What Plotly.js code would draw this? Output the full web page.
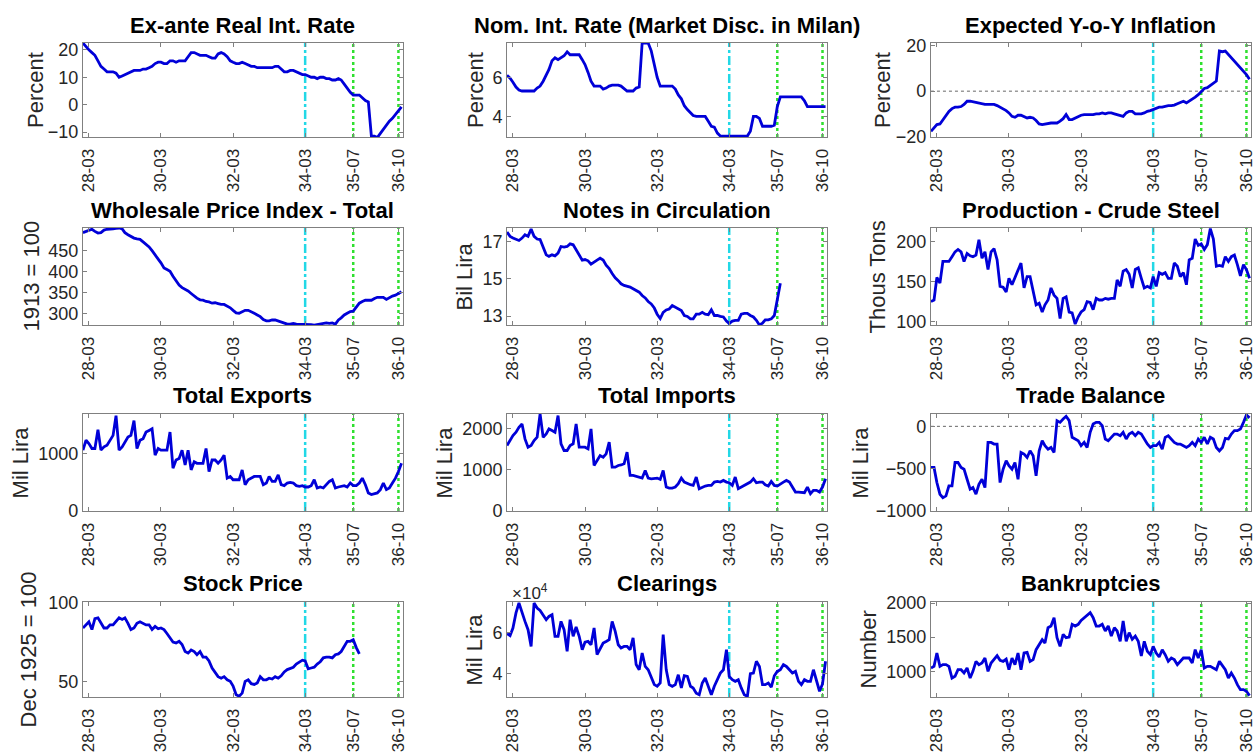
<!DOCTYPE html>
<html><head><meta charset="utf-8">
<script src="https://cdn.plot.ly/plotly-3.0.1.min.js"></script>
<style>html,body{margin:0;padding:0;background:#fff;overflow:hidden}</style>
</head><body><div id="chart" style="width:1255px;height:752px"></div>
<script>
// ---------- data (monthly, starting 1928-01) ----------
const startYear = 1928, startMonth = 1;
const tickDates = ['1928-03-01','1930-03-01','1932-03-01','1934-03-01','1935-07-01','1936-10-01'];
const tickLabels = ['28-03','30-03','32-03','34-03','35-07','36-10'];
const eventDates = ['1934-03-01','1935-07-01','1936-10-01'];

const panelTitles = ['Ex-ante Real Int. Rate','Nom. Int. Rate (Market Disc. in Milan)','Expected Y-o-Y Inflation',
  'Wholesale Price Index - Total','Notes in Circulation','Production - Crude Steel',
  'Total Exports','Total Imports','Trade Balance',
  'Stock Price','Clearings','Bankruptcies'];
const yLabels = ['Percent','Percent','Percent','1913 = 100','Bil Lira','Thous Tons',
  'Mil Lira','Mil Lira','Mil Lira','Dec 1925 = 100','Mil Lira','Number'];

const realRate = [22.5,21,20,19,18,16,14,13,12,12, 12,11.5,10,10.5,11,11.5,12,12.5,12.5,12.5,
  13,13,13.5,14,15,15.5,15.5,15,15,16, 16,15.5,16,16,16,17.5,19,19,18.5,18,
  18,18,17.5,17,17,18.5,19,18.5,17.5,16, 15.5,15,15,15.5,15,14.5,14,14,13.5,13.5,
  13.5,13.5,13.5,13.5,14,14,13,12,12,12.5, 12.5,12,11.5,11,11,10.5,10,10,9.5,10,
  10,9.5,9.5,9,9,9.5,9,7.5,6,4.5, 3.5,3.5,3.5,2.5,1.5,1,-11.5,-11.5,-12,-10.5,
  -9,-7.5,-6,-5,-3.5,-2.5,-0.8];
const nomRate = [6.1,5.95,5.75,5.5,5.35,5.3,5.3,5.3,5.3,5.3, 5.45,5.55,5.8,6.1,6.4,6.85,7.0,6.9,7.0,7.1,
  7.3,7.15,7.15,7.15,7.15,6.9,6.65,6.25,5.8,5.55, 5.55,5.55,5.4,5.45,5.55,5.6,5.6,5.6,5.55,5.4,
  5.3,5.3,5.3,5.45,5.5,7.75,7.75,7.75,7.35,6.65, 6.0,5.55,5.55,5.55,5.55,5.55,5.4,5.1,4.9,4.55,
  4.35,4.2,4.05,4.0,4.0,4.0,4.0,3.75,3.5,3.45, 3.15,3.0,3.0,3.0,3.0,3.0,3.0,3.0,3.0,3.0,
  3.0,3.25,4.0,4.0,3.9,3.5,3.5,3.5,3.5,3.55, 4.5,5.0,5.0,5.0,5.0,5.0,5.0,5.0,5.0,4.8,
  4.5,4.5,4.5,4.5,4.5,4.5,4.5];
const expInfl = [-17.5,-15.8,-14.6,-14.3,-12.4,-10.2,-8.8,-7.6,-7,-7, -6.7,-5.8,-4.4,-4.4,-4.7,-4.8,-5.1,-5.5,-5.8,-5.8,
  -5.8,-5.8,-6.3,-7,-7.6,-8.5,-9.5,-11,-11.4,-10.5, -10.5,-11.2,-11.7,-11.4,-11.7,-12.8,-14.3,-14.6,-14.3,-13.9,
  -13.9,-13.9,-13.9,-13.1,-12,-10.2,-12.4,-12.4,-11.7,-11, -10.5,-10.2,-10.2,-10.5,-10.2,-9.9,-9.9,-9.5,-9.9,-9.5,
  -9.5,-9.9,-10.2,-10.7,-11,-9.5,-8.8,-8.8,-9.9,-9.9, -9.9,-9.5,-8.8,-8.5,-8,-7.3,-7,-7,-6.6,-6.3,
  -6.3,-6.1,-5.5,-5.1,-4.4,-5.1,-4.4,-3.6,-2.6,-1.5, 0,1.2,1.5,2.6,3.6,4.4,17.5,17.2,17.5,16,
  14.3,12.8,11.6,10.1,8.7,7.2,5.2];
const wpi = [492,495,498,500,495,491,492,498,500,500, 501,502,503,501,492,487,483,479,477,476,
  470,465,458,449,440,429,420,408,404,400, 388,378,367,361,357,353,347,340,336,332,
  331,328,327,324,325,323,321,321,317,313, 307,301,300,304,307,307,304,300,296,292,
  285,282,282,284,284,281,280,276,274,274, 276,274,274,273,273,273,273,272,273,274,
  276,277,276,277,274,284,289,296,300,304, 305,316,324,328,331,331,331,335,338,338,
  338,333,338,341,343,347,351];
const notes = [17.5,17.27,17.18,17.1,17.05,17.18,17.36,17.27,17.66,17.27, 17.13,17.1,16.73,16.28,16.2,16.28,16.23,16.37,16.73,16.7,
  16.73,16.87,16.82,16.55,16.28,16.0,16.03,15.96,15.78,15.91, 16.0,16.1,16.0,15.73,15.55,15.28,15.05,14.9,14.73,14.64,
  14.6,14.55,14.46,14.37,14.28,14.1,13.97,13.78,13.65,13.43, 13.1,12.87,13.2,13.33,13.38,13.56,13.47,13.38,13.3,13.03,
  12.98,12.85,12.85,13.1,13.1,13.2,13.1,13.07,13.33,13.03, 13.03,12.98,12.95,12.73,12.6,12.73,12.77,12.77,13.1,13.14,
  13.14,13.03,12.95,12.77,12.52,12.62,12.8,12.8,12.85,13.03, 13.83,14.76];
const steel = [125,127,155,148,175,175,175,181,187,190, 187,175,185,182,181,183,202,179,187,165,
  187,191,177,144,143,137,154,146,155,165, 173,142,156,156,140,121,123,112,121,127,
  142,133,129,104,129,131,112,111,97,106, 112,115,125,124,115,129,127,127,129,128,
  129,129,152,144,163,165,159,142,165,167, 154,142,144,142,156,144,161,159,161,154,
  154,173,169,156,161,146,177,179,203,195, 197,190,196,216,203,169,170,169,181,175,
  181,183,171,157,171,165,154];
const exportsV = [1057,1229,1171,1086,1086,1411,1057,1114,1143,1229, 1314,1657,1057,1114,1200,1286,1314,1571,1086,1229,
  1257,1371,1400,1429,971,1086,1057,1057,1057,1371, 743,886,914,1057,800,1057,714,857,829,829,
  829,1086,686,886,886,829,886,971,571,600, 543,543,543,714,457,543,571,600,600,600,
  457,486,600,514,514,629,457,440,486,497, 486,440,429,440,417,417,440,543,400,417,
  400,457,514,543,400,417,429,440,417,486, 440,440,486,571,457,314,286,303,314,371,
  486,371,400,486,571,686,829];
const importsV = [1595,1717,1838,1919,2040,2121,1757,1555,1595,1717, 1798,2365,1798,1878,2000,1960,1919,2324,1636,1474,
  1474,1595,1636,2121,1555,1555,1555,1514,2000,1109, 1231,1352,1312,1393,1676,1069,1069,1109,1121,1150,
  1433,866,866,850,826,802,988,802,785,802, 802,769,988,583,559,559,583,664,802,704,
  664,640,623,826,543,583,607,623,623,704, 721,704,745,704,688,623,826,543,583,623,
  664,704,785,688,704,704,640,607,721,623, 607,664,704,745,704,583,461,461,461,445,
  583,421,502,502,461,583,785];
const tradeBal = [-486,-486,-664,-802,-842,-822,-704,-704,-427,-427, -486,-506,-625,-743,-723,-802,-684,-625,-723,-190,
  -190,-209,-209,-664,-506,-407,-466,-506,-427,-625, -308,-328,-368,-289,-348,-585,-289,-170,-229,-269,
  -249,-308,67,47,87,119,67,-130,-150,-170, -229,-190,-249,-71,28,47,47,8,-150,-170,
  -130,-91,-91,-111,-71,-150,-91,-71,-111,-71, -91,-150,-209,-249,-229,-229,-190,-269,-130,-111,
  -158,-190,-209,-209,-229,-249,-229,-190,-229,-150, -190,-130,-209,-130,-150,-249,-289,-249,-142,-150,
  -91,-51,-51,-32,47,134,100];
const stock = [84,86,88,83,90,90.5,87,84,84,86, 86,88,90.5,89.5,90.5,87,83,84,87,88,
  87,86,86,83,85,83.5,84,83,80.5,78, 75,74.5,75.5,73.5,69,68,70,69,67,69,
  65.5,65.5,63,58.5,55.5,53,52,53,51,50, 47,41.5,40.5,42.5,50,51,48.5,48,49,53,
  51,51,52,51.5,53,52,53.5,56,57.5,58.5, 59,61,62,63.5,63,58,58.5,59,61,62.5,
  65,65.5,65.5,65,67,67.5,69,72,75.5,75.5, 76.5,71.5,67.5];
const clearings = [59400,58400,62100,69400,74200,69400,65300,61300,53200,74200, 71800,70600,68500,66100,67700,68500,58100,58100,65300,61300,
  50800,66100,58100,62600,58100,51600,55200,55600,54000,62100, 49200,51900,54800,55600,56500,65300,60500,54000,52400,53200,
  53200,51600,57300,44400,41900,50000,43500,41900,37900,34700, 33900,35500,58900,41900,34700,33900,34700,39500,33100,39000,
  38700,33900,33100,30600,29800,35500,37900,33900,29800,33900, 37100,40300,41900,51600,38700,37100,36300,37100,33100,29800,
  29000,40000,40300,46000,43500,34700,34700,35500,33500,39000, 41100,41900,44400,43500,41900,40300,41100,36300,34700,37100,
  36300,36300,41900,37100,31500,35000,46000];
const bankrupt = [1049,1073,1268,1073,1098,1098,1073,902,927,1024, 1024,976,1049,902,1000,1146,1098,1122,1195,1000,
  1122,1171,1229,1161,1146,1180,1024,1195,1098,1268, 1024,1268,1278,1146,1171,1317,1390,1463,1415,1639,
  1663,1785,1493,1366,1541,1493,1502,1688,1663,1688, 1746,1785,1810,1859,1785,1663,1663,1688,1590,1663,
  1517,1639,1590,1439,1737,1439,1566,1468,1517,1439, 1224,1439,1293,1244,1366,1268,1210,1317,1244,1146,
  1195,1171,1098,1146,1195,1195,1195,1122,1317,1195, 1317,1049,1073,1073,1049,1024,1146,1073,1024,902,
  976,902,805,732,732,707,644];

const seriesList = [realRate, nomRate, expInfl, wpi, notes, steel, exportsV, importsV, tradeBal, stock, clearings, bankrupt];
const yRanges = [[-11.8,22.5],[2.95,7.75],[-20,21],[272,503],[12.52,17.72],[95.8,216.7],
  [0,1686],[0,2364],[-1000,146],[40,100.6],[28700,74700],[624,2015]];
const yTickVals = [[-10,0,10,20],[4,6],[-20,0,20],[300,350,400,450],[13,15,17],[100,150,200],
  [0,1000],[0,1000,2000],[-1000,-500,0],[50,100],[40000,60000],[1000,1500,2000]];
const yTickText = [null,null,null,null,null,null,null,null,null,null,['4','6'],null];
const zeroLinePanels = [3, 9];

// ---------- layout geometry ----------
const colDomains = [[0.0661,0.3211],[0.4040,0.6590],[0.7418,0.9968]];
const rowDomains = [[0.8178,0.9428],[0.5678,0.6968],[0.3205,0.4495],[0.0731,0.1995]];
const yLabelX = [0.0279,0.3785,0.7028,0.0255,0.3705,0.6996,0.0167,0.3538,0.6853,0.0231,0.3777,0.6924];
const xRange = ['1928-01-01','1936-11-16'];

function monthDates(n){
  const a = [];
  for(let i=0;i<n;i++){
    const y = startYear + Math.floor((startMonth-1+i)/12);
    const m = (startMonth-1+i)%12 + 1;
    a.push(y + '-' + String(m).padStart(2,'0') + '-01');
  }
  return a;
}

const FONT = 'Liberation Sans, Arial, Helvetica, sans-serif';
const AX = '#808080', TXT = '#262626';
const traces = [], shapes = [], annotations = [];
const layout = {
  width:1255, height:752, margin:{l:0,r:0,t:0,b:0},
  paper_bgcolor:'#fff', plot_bgcolor:'#fff', showlegend:false,
  font:{family:FONT, color:TXT}
};

for(let i=0;i<12;i++){
  const k = i+1, row = Math.floor(i/3), col = i%3;
  const xs = 'x'+(k===1?'':k), ys = 'y'+(k===1?'':k);
  const vals = seriesList[i];
  traces.push({type:'scatter', mode:'lines', x:monthDates(vals.length), y:vals,
    xaxis:xs, yaxis:ys, line:{color:'#0000d8', width:2.8}, hoverinfo:'x+y'});
  const xa = {domain:colDomains[col], anchor:ys, type:'date', range:xRange,
    tickmode:'array', tickvals:tickDates, ticktext:tickLabels, tickangle:-90,
    ticklabeloverflow:'allow', ticklabelstandoff:4,
    ticks:'inside', ticklen:4, tickcolor:AX, showline:true, linecolor:AX, linewidth:1,
    mirror:'ticks', showgrid:false, zeroline:false, tickfont:{family:FONT,size:17,color:TXT}};
  const ya = {domain:rowDomains[row], anchor:xs, range:yRanges[i],
    tickmode:'array', tickvals:yTickVals[i], ticklabeloverflow:'allow',
    ticks:'inside', ticklen:4, tickcolor:AX, showline:true, linecolor:AX, linewidth:1,
    mirror:'ticks', showgrid:false, zeroline:false, tickfont:{family:FONT,size:18,color:TXT}};
  if(yTickText[i]) ya.ticktext = yTickText[i];
  layout['xaxis'+(k===1?'':k)] = xa;
  layout['yaxis'+(k===1?'':k)] = ya;

  // event lines
  eventDates.forEach((d,j)=>{
    shapes.push({type:'line', layer:'below', xref:xs, yref:ys+' domain', x0:d, x1:d, y0:0, y1:1,
      line: j===0 ? {color:'#22d8e6', width:2.5, dash:'dashdot'} : {color:'#2ee02e', width:2.5, dash:'dot'}});
  });
  if(zeroLinePanels.includes(k)){
    shapes.push({type:'line', layer:'below', xref:xs+' domain', yref:ys, x0:0, x1:1, y0:0, y1:0,
      line:{color:'#666', width:1, dash:'dot'}});
  }
  // panel title
  annotations.push({text:'<b>'+panelTitles[i]+'</b>', xref:'paper', yref:'paper',
    x:(colDomains[col][0]+colDomains[col][1])/2, y:rowDomains[row][1], xanchor:'center', yanchor:'middle',
    yshift:18, showarrow:false, font:{family:FONT, size:22, color:'#000'}});
  // y label
  annotations.push({text:yLabels[i], xref:'paper', yref:'paper', x:yLabelX[i],
    y:(rowDomains[row][0]+rowDomains[row][1])/2, xanchor:'center', yanchor:'middle', textangle:-90,
    showarrow:false, font:{family:FONT, size:22, color:TXT}});
}
annotations.push({text:'\u00d710<sup>4</sup>', xref:'paper', yref:'paper', x:0.4064, y:0.2128,
  xanchor:'left', yanchor:'middle', showarrow:false, font:{family:FONT, size:17, color:TXT}});

layout.shapes = shapes;
layout.annotations = annotations;
Plotly.newPlot('chart', traces, layout, {displayModeBar:false, staticPlot:true});
</script>
</body></html>
